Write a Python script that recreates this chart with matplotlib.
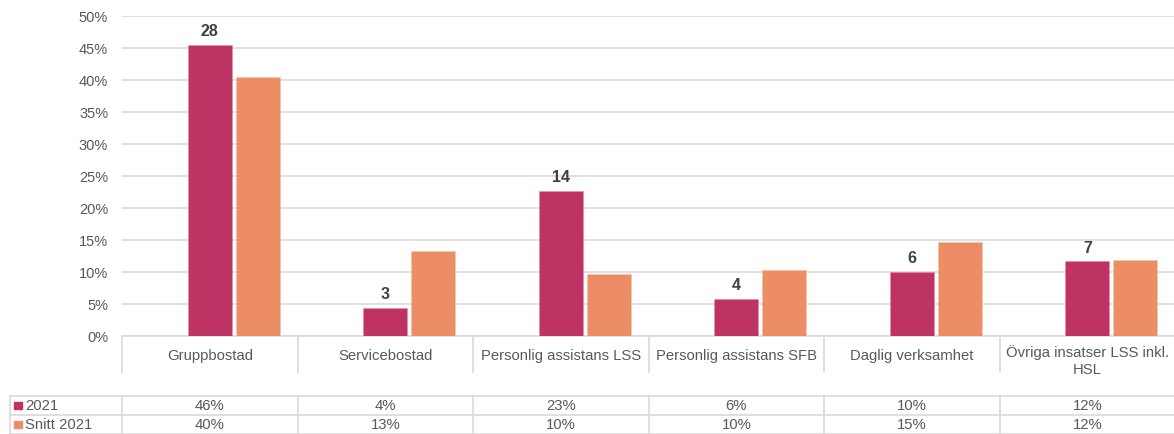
import matplotlib
matplotlib.use("Agg")
import matplotlib.pyplot as plt
from matplotlib.transforms import blended_transform_factory
import numpy as np

plt.rcParams['font.family'] = ['Liberation Sans', 'DejaVu Sans']

categories = ["Gruppbostad", "Servicebostad", "Personlig assistans LSS",
              "Personlig assistans SFB", "Daglig verksamhet",
              "Övriga insatser LSS inkl.\nHSL"]
series_names = ["2021", "Snitt 2021"]
values_2021 = [45.5, 4.3, 22.6, 5.7, 10.0, 11.6]
values_snitt = [40.4, 13.2, 9.6, 10.3, 14.6, 11.9]
counts_2021 = [28, 3, 14, 4, 6, 7]
y_ticks = [0, 5, 10, 15, 20, 25, 30, 35, 40, 45, 50]

c_2021 = "#BE3364"
c_snitt = "#EC8D66"
text_gray = "#595959"
line_gray = "#D9D9D9"

W, H = 1174, 435
fig = plt.figure(figsize=(W / 100, H / 100), dpi=100)

# Overlay in pixel coordinates for the category strip and data table
over = fig.add_axes([0, 0, 1, 1])
over.set_xlim(0, W)
over.set_ylim(H, 0)
over.axis("off")

ax = fig.add_axes([122 / W, (H - 336.7) / H, (W - 122) / W + 0.001, 320 / H])
x = np.arange(len(categories))
bw = 0.25
off = 0.2735
ax.bar(x, values_2021, width=bw, color=c_2021, edgecolor="#E88AA8", linewidth=0.4, zorder=3)
ax.bar(x + off, values_snitt, width=bw, color=c_snitt, edgecolor="#F6C2A8", linewidth=0.4, zorder=3)

for xi, v, n in zip(x, values_2021, counts_2021):
    ax.annotate(str(n), (xi, v), xytext=(0, 5), textcoords="offset points",
                ha="center", va="bottom", fontsize=11.5, fontweight="bold",
                color="#404040")

ax.set_xlim(-0.5, len(categories) - 0.5)
ax.set_ylim(0, 50)
ax.set_yticks(y_ticks)
ax.set_yticklabels([f"{t}%" for t in y_ticks])
ax.yaxis.grid(True, color=line_gray, linewidth=1.2, zorder=0)
ax.set_axisbelow(True)
ax.tick_params(axis="y", length=0, pad=10, labelsize=10.5, labelcolor=text_gray)
ax.tick_params(axis="x", length=0, labelbottom=False)
for s in ["top", "right", "left"]:
    ax.spines[s].set_visible(False)
ax.spines["bottom"].set_color(line_gray)
ax.spines["bottom"].set_linewidth(1.2)
ax.patch.set_alpha(0)

# Category strip below the axis
tr = blended_transform_factory(ax.transData, over.transData)
bounds = np.arange(len(categories) + 1) - 0.5
for b in bounds[:-1]:
    over.plot([b, b], [336.7, 373], color=line_gray, lw=1.2, transform=tr)
for xi, cat in zip(x, categories):
    if "\n" in cat:
        over.text(xi, 345, cat, transform=tr, ha="center", va="top",
                  fontsize=10.7, color=text_gray, linespacing=1.25)
    else:
        over.text(xi, 356, cat, transform=tr, ha="center", va="center",
                  fontsize=10.7, color=text_gray)

# Data table
row_y = [406.5, 425.5]
over.plot([10, W], [397, 397], color=line_gray, lw=1.2)
over.plot([10, W], [416, 416], color=line_gray, lw=1.2)
over.plot([10, W], [434.5, 434.5], color=line_gray, lw=1.2)
over.plot([10, 10], [397, 435], color=line_gray, lw=1.2)
for b in bounds[:-1]:
    over.plot([b, b], [397, 435], color=line_gray, lw=1.2, transform=tr)

for ry, name, col, vals in zip(row_y, series_names, [c_2021, c_snitt],
                               [values_2021, values_snitt]):
    over.add_patch(plt.Rectangle((14, ry - 4), 7.5, 7.5, color=col))
    over.text(25, ry, name, ha="left", va="center", fontsize=10.7, color=text_gray)
    for xi, v in zip(x, vals):
        over.text(xi, ry, f"{v:.0f}%", transform=tr, ha="center", va="center",
                  fontsize=10.7, color=text_gray)

fig.savefig("out.png", dpi=100)
